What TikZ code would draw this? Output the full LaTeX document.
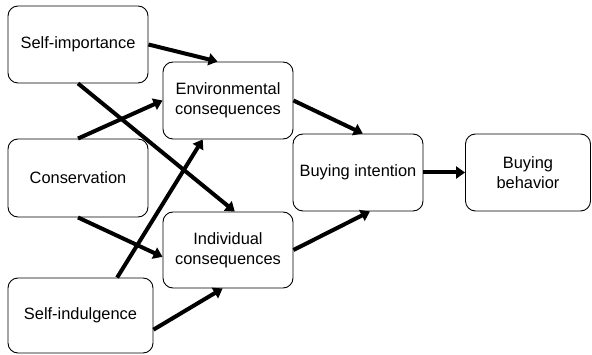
\documentclass[tikz,border=0pt]{standalone}
\usepackage{fontspec}
\setmainfont{Liberation Sans}
\usetikzlibrary{arrows.meta}
\tikzset{
	box/.style={draw,rounded corners=10pt,line width=.9pt,align=center,inner sep=0pt,
		font=\fontsize{16.4}{20}\selectfont},
	pathto/.style={line width=4pt,-{Triangle[length=9pt,width=12pt]}}
}
\begin{document}
\begin{tikzpicture}[x=1pt,y=-1pt]
	\useasboundingbox (0,0) rectangle (592,355);
	% left column
	\node[box,minimum width=140pt,minimum height=77pt] (selfimp) at (78,44.5) {Self-importance};
	\node[box,minimum width=140pt,minimum height=78pt] (conserv) at (78,178) {Conservation};
	\node[box,minimum width=145pt,minimum height=75pt] (selfind) at (80.5,315.5) {Self-indulgence};
	% middle
	\node[box,minimum width=130pt,minimum height=77pt] (envcons) at (228,100.5) {Environmental\\consequences};
	\node[box,minimum width=130pt,minimum height=76pt] (indcons) at (228,250) {Individual\\consequences};
	% right
	\node[box,minimum width=130pt,minimum height=77pt] (intent) at (358,172.5) {Buying intention};
	\node[box,minimum width=125pt,minimum height=77pt] (behav) at (528,172.5) {Buying\\behavior};
	% paths
	\draw[pathto] (selfimp.east) -- (envcons.105);
	\draw[pathto] (selfimp.south) -- (indcons.80);
	\draw[pathto] (conserv.north) -- (envcons.west);
	\draw[pathto] (conserv.south) -- (indcons.186);
	\draw[pathto] (selfind.46) -- (envcons.237);
	\draw[pathto] (selfind.349) -- (indcons.262);
	\draw[pathto] (envcons.east) -- (intent.83);
	\draw[pathto] (indcons.east) -- (intent.287);
	\draw[pathto] (intent.east) -- (behav.west);
\end{tikzpicture}
\end{document}
